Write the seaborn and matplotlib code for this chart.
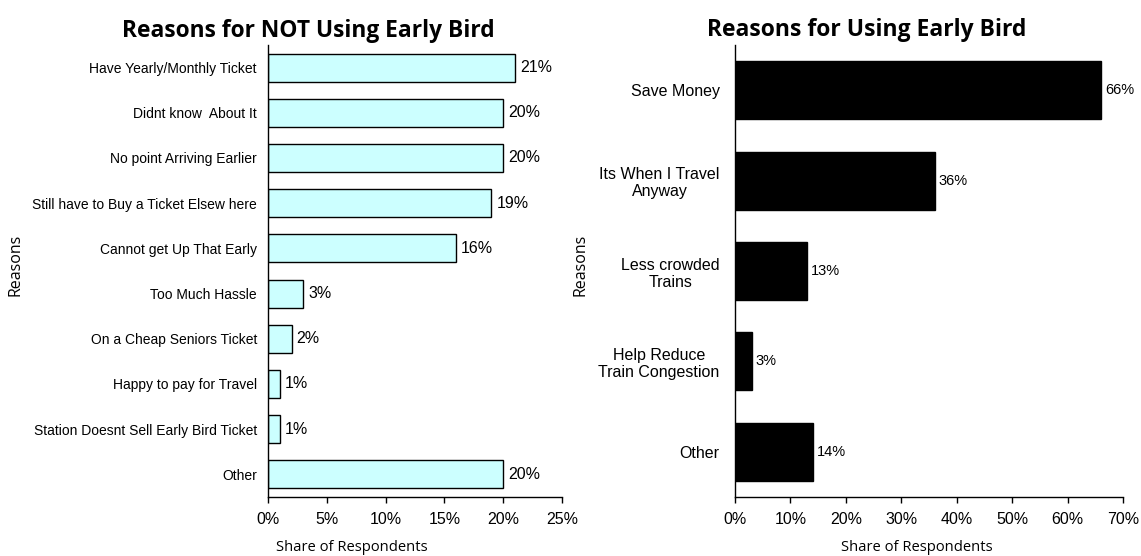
import matplotlib
matplotlib.use("Agg")
import matplotlib.pyplot as plt
import seaborn as sns
import pandas as pd
from matplotlib.ticker import PercentFormatter

sns.set_theme(style="white")
plt.rcParams["font.family"] = ["Liberation Sans", "DejaVu Sans"]
plt.rcParams["text.color"] = "black"
plt.rcParams["axes.labelcolor"] = "black"
plt.rcParams["xtick.color"] = "black"
plt.rcParams["ytick.color"] = "black"

# Reasons for not using Early Bird (share of respondents, %)
not_reasons = [
    "Have Yearly/Monthly Ticket",
    "Didnt know  About It",
    "No point Arriving Earlier",
    "Still have to Buy a Ticket Elsew here",
    "Cannot get Up That Early",
    "Too Much Hassle",
    "On a Cheap Seniors Ticket",
    "Happy to pay for Travel",
    "Station Doesnt Sell Early Bird Ticket",
    "Other",
]
not_shares = [21, 20, 20, 19, 16, 3, 2, 1, 1, 20]

# Reasons for using Early Bird (share of respondents, %)
use_reasons = [
    "Save Money",
    "Its When I Travel\nAnyway",
    "Less crowded\nTrains",
    "Help Reduce\nTrain Congestion",
    "Other",
]
use_shares = [66, 36, 13, 3, 14]

left_ticks = [0, 5, 10, 15, 20, 25]
right_ticks = [0, 10, 20, 30, 40, 50, 60, 70]

df_not = pd.DataFrame({"reason": not_reasons, "share": not_shares})
df_use = pd.DataFrame({"reason": use_reasons, "share": use_shares})

W, H = 1141, 556
fig = plt.figure(figsize=(W / 100, H / 100), dpi=100)
ax1 = fig.add_axes([268 / W, 1 - 497 / H, 294 / W, 452 / H])
ax2 = fig.add_axes([735 / W, 1 - 497 / H, 388 / W, 452 / H])

sans = ["Open Sans", "DejaVu Sans"]


def style_axis(ax, ticks, label_size, label_pad):
    ax.set_xlim(ticks[0], ticks[-1])
    ax.set_xticks(ticks)
    ax.xaxis.set_major_formatter(PercentFormatter(decimals=0))
    for side in ("top", "right"):
        ax.spines[side].set_visible(False)
    for side in ("left", "bottom"):
        ax.spines[side].set_color("black")
        ax.spines[side].set_linewidth(1.0)
    ax.tick_params(axis="x", bottom=True, direction="out", length=4, width=1,
                   color="black", labelsize=11.5, pad=7)
    ax.tick_params(axis="y", left=False, length=0, labelsize=label_size,
                   pad=label_pad)
    for t in ax.get_xticklabels() + ax.get_yticklabels():
        t.set_color("black")


# Left panel: reasons for not using
sns.barplot(data=df_not, x="share", y="reason", orient="h", ax=ax1,
            color="#CCFFFF", edgecolor="black", linewidth=1.0, width=0.62,
            saturation=1)
style_axis(ax1, left_ticks, 10, 8)
ax1.set_title("Reasons for NOT Using Early Bird", x=(308 - 268) / 294,
              y=(497 - 37) / 452, pad=0, family=sans, fontsize=16.4,
              fontweight="bold", color="black")
ax1.set_xlabel("Share of Respondents", family=sans, fontsize=10.6,
               color="black")
ax1.xaxis.set_label_coords(352 / W, 1 - 540 / H, transform=fig.transFigure)
ax1.set_ylabel("Reasons", family=sans, fontsize=11.5, color="black")
ax1.yaxis.set_label_coords(24 / W, 1 - 265 / H, transform=fig.transFigure)
ax1.bar_label(ax1.containers[0], labels=[f"{v}%" for v in not_shares],
              padding=3.6, fontsize=11.5, color="black")

# Right panel: reasons for using
sns.barplot(data=df_use, x="share", y="reason", orient="h", ax=ax2,
            color="black", edgecolor="black", linewidth=1.0, width=0.64,
            saturation=1)
style_axis(ax2, right_ticks, 11.5, 11)
for t in ax2.get_yticklabels():
    t.set_multialignment("center")
ax2.set_title("Reasons for Using Early Bird", x=(867 - 735) / 388,
              y=(497 - 36) / 452, pad=0, family=sans, fontsize=16.5,
              fontweight="bold", color="black")
ax2.set_xlabel("Share of Respondents", family=sans, fontsize=10.6,
               color="black")
ax2.xaxis.set_label_coords(917 / W, 1 - 540 / H, transform=fig.transFigure)
ax2.set_ylabel("Reasons", family=sans, fontsize=11.5, color="black")
ax2.yaxis.set_label_coords(588 / W, 1 - 265 / H, transform=fig.transFigure)
ax2.bar_label(ax2.containers[0], labels=[f"{v}%" for v in use_shares],
              padding=3, fontsize=10.5, color="black")

fig.savefig("out.png", dpi=100, facecolor="white")
